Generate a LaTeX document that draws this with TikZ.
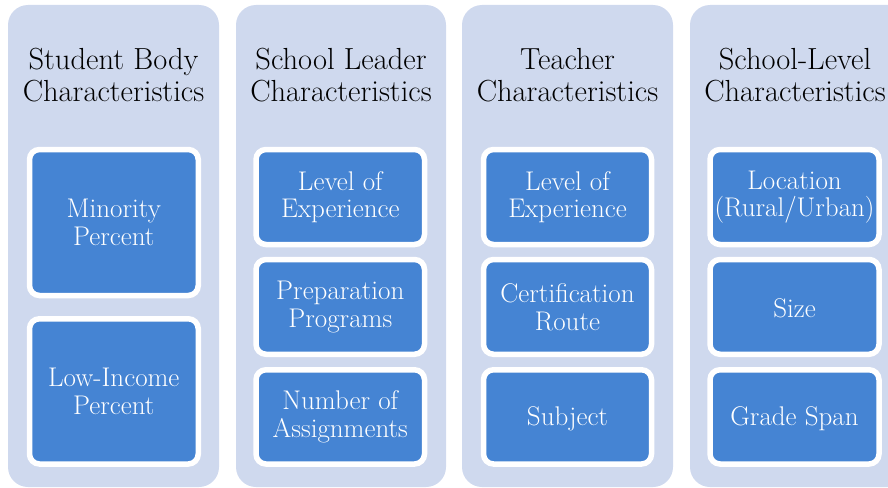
\documentclass[tikz,border=0pt]{standalone}
\definecolor{colbg}{HTML}{CFD9EE}
\definecolor{boxblue}{HTML}{4584D3}
\tikzset{
  colbox/.style={fill=colbg, rounded corners=20pt},
  inbox/.style={fill=boxblue, draw=white, line width=5.5pt, rounded corners=10pt},
  head/.style={font=\fontsize{30.5}{32}\selectfont, align=center, text=black},
  lbl/.style={font=\fontsize{27}{27.5}\selectfont, align=center, text=white}
}
\begin{document}
\begin{tikzpicture}[x=1pt,y=-1pt]
\useasboundingbox (0,0) rectangle (888,487);
\begin{scope}
\clip (0,0) rectangle (888,487);
\fill[colbox] (8,5) rectangle (219,487);
\fill[colbox] (236,5) rectangle (446,487);
\fill[colbox] (462,5) rectangle (673,487);
\fill[colbox] (690,5) rectangle (910,487);
\end{scope}
% headings
\node[head] (h1) at (113.5,75) {Student Body\\Characteristics};
\node[head] (h2) at (341,75) {School Leader\\Characteristics};
\node[head] (h3) at (567.5,75) {Teacher\\Characteristics};
\node[head] (h4) at (795,75) {School-Level\\Characteristics};
% column 1
\draw[inbox] (29.5,149.5) rectangle (198.25,295.5);
\node[lbl] (a1) at (113.8,222.5) {Minority\\Percent};
\draw[inbox] (29.5,318.75) rectangle (198.25,464);
\node[lbl] (a2) at (113.8,391.5) {Low-Income\\Percent};
% column 2
\draw[inbox] (256,149.5) rectangle (424.5,244.5);
\node[lbl] (b1) at (340.3,197) {Level of\\Experience};
\draw[inbox] (256,259.5) rectangle (424.5,354.25);
\node[lbl] (b2) at (340.3,307) {Preparation\\Programs};
\draw[inbox] (256,369.75) rectangle (424.5,464);
\node[lbl] (b3) at (340.3,417) {Number of\\Assignments};
% column 3
\draw[inbox] (483.5,149.5) rectangle (651.5,244.5);
\node[lbl] (c1) at (567.5,197) {Level of\\Experience};
\draw[inbox] (483.5,259.5) rectangle (651.5,354.25);
\node[lbl] (c2) at (567.5,307) {Certification\\Route};
\draw[inbox] (483.5,369.75) rectangle (651.5,464);
\node[lbl] (c3) at (567.5,418.5) {Subject};
% column 4
\draw[inbox] (710,149.5) rectangle (879,244.5);
\node[lbl] (d1) at (794.5,197) {Location\\(Rural/Urban)};
\draw[inbox] (710,259.5) rectangle (879,354.25);
\node[lbl] (d2) at (794.5,308) {Size};
\draw[inbox] (710,369.75) rectangle (879,464);
\node[lbl] (d3) at (794.5,418.5) {Grade Span};
\end{tikzpicture}
\end{document}
